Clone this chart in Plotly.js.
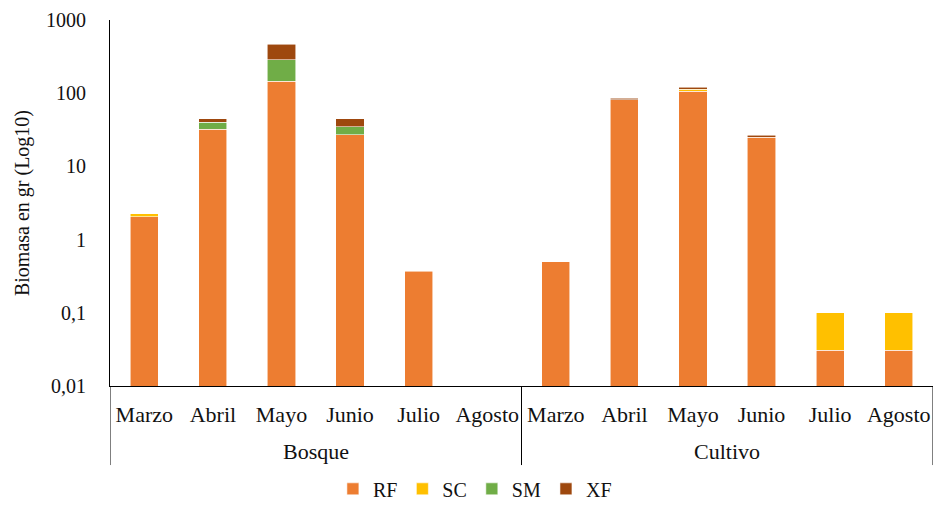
<!DOCTYPE html>
<html>
<head>
<meta charset="utf-8">
<script src="https://cdn.plot.ly/plotly-3.0.1.min.js"></script>
<style>html,body{margin:0;padding:0;background:#fff;}#chart{width:933px;height:505px;}</style>
</head>
<body>
<div id="chart"></div>
<script>
var groups = ['Bosque','Bosque','Bosque','Bosque','Bosque','Bosque','Cultivo','Cultivo','Cultivo','Cultivo','Cultivo','Cultivo'];
var months = ['Marzo','Abril','Mayo','Junio','Julio','Agosto','Marzo','Abril','Mayo','Junio','Julio','Agosto'];
var groupNames = ['Bosque', 'Cultivo'];
var rf = [2.05, 32, 145, 27, 0.37, null, 0.5, 81, 107, 25, 0.031, 0.031];
var sc = [0.2, null, null, null, null, null, null, null, 7, null, 0.069, 0.069];
var sm = [null, 8, 140, 8, null, null, null, null, null, null, null, null];
var xf = [null, 5, 185, 10, null, null, null, 4, 6, 1.5, null, null];
var yTickVals = [0.01, 0.1, 1, 10, 100, 1000];
var yTickText = ['0,01', '0,1', '1', '10', '100', '1000'];

// unique category keys (group + month), shown with month text
var keys = months.map(function (m, i) { return groups[i] + ' ' + m; });

function tr(name, y, color) {
  return {type: 'bar', name: name, x: keys, y: y,
    marker: {color: color, line: {color: 'rgba(255,255,255,0.7)', width: 0.8}},
    hoverinfo: 'y'};
}
var data = [
  tr('RF', rf, '#ED7D31'),
  tr('SC', sc, '#FFC000'),
  tr('SM', sm, '#70AD47'),
  tr('XF', xf, '#9E480E')
];
var fam = 'Liberation Serif';
var txtColor = '#111111';

// group labels and dividers positioned in category-index units
var annotations = [];
var shapes = [];
var divPos = [-0.5];
groupNames.forEach(function (g) {
  var idx = [];
  groups.forEach(function (gg, i) { if (gg === g) idx.push(i); });
  var mid = (idx[0] + idx[idx.length - 1]) / 2;
  annotations.push({text: g, x: mid, xref: 'x', y: -0.18, yref: 'paper',
    xanchor: 'center', yanchor: 'middle', showarrow: false,
    font: {family: fam, size: 22, color: txtColor}});
  divPos.push(idx[idx.length - 1] + 0.5);
});
divPos.forEach(function (p) {
  shapes.push({type: 'line', xref: 'x', yref: 'paper', x0: p, x1: p, y0: 0, y1: -0.216,
    line: {color: '#000', width: 1}});
});

var layout = {
  width: 933, height: 505,
  margin: {l: 110, r: 0, t: 20, b: 119},
  barmode: 'stack',
  bargap: 0.59,
  paper_bgcolor: '#fff', plot_bgcolor: '#fff',
  font: {family: fam, size: 20, color: txtColor},
  showlegend: true,
  legend: {orientation: 'h', xref: 'container', yref: 'container', x: 0.509, xanchor: 'center',
    y: 0.032, yanchor: 'middle',
    font: {family: fam, size: 20, color: txtColor}, itemwidth: 30, traceorder: 'normal'},
  xaxis: {type: 'category', showline: true, linecolor: '#000', linewidth: 1,
    ticks: '', showgrid: false, zeroline: false, range: [-0.5, 11.5],
    tickvals: keys, ticktext: months, ticklabelstandoff: 9,
    tickfont: {family: fam, size: 22, color: txtColor}},
  yaxis: {type: 'log', range: [-2, 3], showline: true, linecolor: '#000', linewidth: 1,
    ticks: '', showgrid: false, zeroline: false,
    tickvals: yTickVals, ticktext: yTickText, ticklabelstandoff: 19,
    tickfont: {family: fam, size: 20, color: txtColor},
    title: {text: 'Biomasa en gr (Log10)', font: {family: fam, size: 20, color: txtColor}, standoff: 11}},
  annotations: annotations,
  shapes: shapes
};
Plotly.newPlot('chart', data, layout, {displayModeBar: false, staticPlot: true});
</script>
</body>
</html>
